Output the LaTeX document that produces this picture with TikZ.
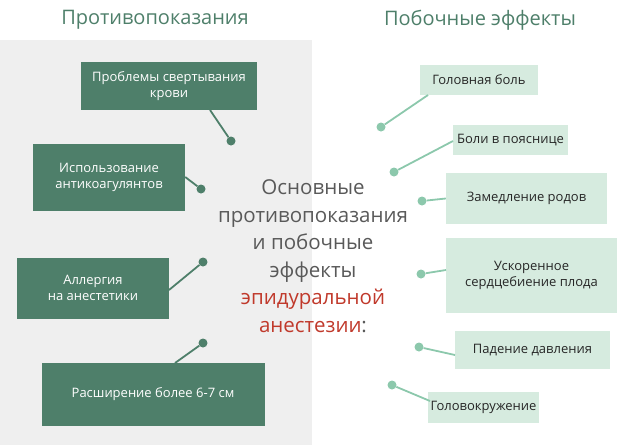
\documentclass[tikz,border=0pt]{standalone}
\usepackage{fontspec}
\setmainfont{Open Sans}
\definecolor{dgreen}{HTML}{4E7F6A}
\definecolor{lgreen}{HTML}{D6EBDF}
\definecolor{dotgreen}{HTML}{8CC8AC}
\definecolor{pale}{HTML}{EFEFEF}
\definecolor{redtxt}{HTML}{C0392B}
\tikzset{
  contra/.style={fill=dgreen, text=white, align=center, font=\fontsize{13}{16}\selectfont, inner sep=0pt},
  effect/.style={fill=lgreen, text=black!85, align=center, font=\fontsize{13}{16}\selectfont, inner sep=0pt},
  cdot/.style={circle, fill=dgreen, minimum size=9pt, inner sep=0pt},
  edot/.style={circle, fill=dotgreen, minimum size=9pt, inner sep=0pt},
  cline/.style={dgreen, line width=1.8pt},
  eline/.style={dotgreen, line width=1.8pt}
}
\begin{document}
\begin{tikzpicture}[x=1pt, y=-1pt]
    \useasboundingbox (0,0) rectangle (640,445);
    \fill[pale] (0,40) rectangle (312,445);

    \node[text=dgreen, font=\fontsize{20}{24}\selectfont] (ltitle) at (155,20) {Противопоказания};
    \node[text=dgreen, font=\fontsize{20}{24}\selectfont] (rtitle) at (480,20) {Побочные эффекты};

    \node[text=black!65, align=center, font=\fontsize{20.5}{27.5}\selectfont] (main) at (313,256)
        {Основные\\противопоказания\\и побочные\\эффекты\\\textcolor{redtxt}{эпидуральной}\\\textcolor{redtxt}{анестезии}:};

    % contraindications
    \node[contra, minimum width=176pt, minimum height=48pt] (c1) at (169,86) {Проблемы свертывания\\крови};
    \node[contra, minimum width=152pt, minimum height=67pt] (c2) at (109,177) {Использование\\антикоагулянтов};
    \node[contra, minimum width=152pt, minimum height=61pt] (c3) at (93,288) {Аллергия\\на анестетики};
    \node[contra, minimum width=223pt, minimum height=63pt] (c4) at (153,394) {Расширение более 6-7 см};
    \node[cdot] (d1) at (231,141) {};
    \node[cdot] (d2) at (201,189) {};
    \node[cdot] (d3) at (203,262) {};
    \node[cdot] (d4) at (203,343) {};
    \draw[cline] (210,110) -- (d1);
    \draw[cline] (c2.east) -- (d2);
    \draw[cline] (169,290) -- (d3);
    \draw[cline] (175,363) -- (d4);

    % side effects
    \node[effect, minimum width=118pt, minimum height=30pt] (e1) at (479,80) {Головная боль};
    \node[effect, minimum width=115pt, minimum height=30pt] (e2) at (510.5,140) {Боли в пояснице};
    \node[effect, minimum width=161pt, minimum height=51pt] (e3) at (526.5,198.5) {Замедление родов};
    \node[effect, minimum width=171pt, minimum height=75pt] (e4) at (531.5,275.5) {Ускоренное\\сердцебиение плода};
    \node[effect, minimum width=155pt, minimum height=38pt] (e5) at (532.5,350) {Падение давления};
    \node[effect, minimum width=111pt, minimum height=31pt] (e6) at (483.5,407.5) {Головокружение};
    \node[edot] (f1) at (381,127) {};
    \node[edot] (f2) at (394,172) {};
    \node[edot] (f3) at (422,201) {};
    \node[edot] (f4) at (421,274) {};
    \node[edot] (f5) at (419,347) {};
    \node[edot] (f6) at (392,385) {};
    \draw[eline] (428,95) -- (f1);
    \draw[eline] (453,141) -- (f2);
    \draw[eline] (e3.west) -- (f3);
    \draw[eline] (446,270) -- (f4);
    \draw[eline] (455,355) -- (f5);
    \draw[eline] (430,401) -- (f6);
\end{tikzpicture}
\end{document}
